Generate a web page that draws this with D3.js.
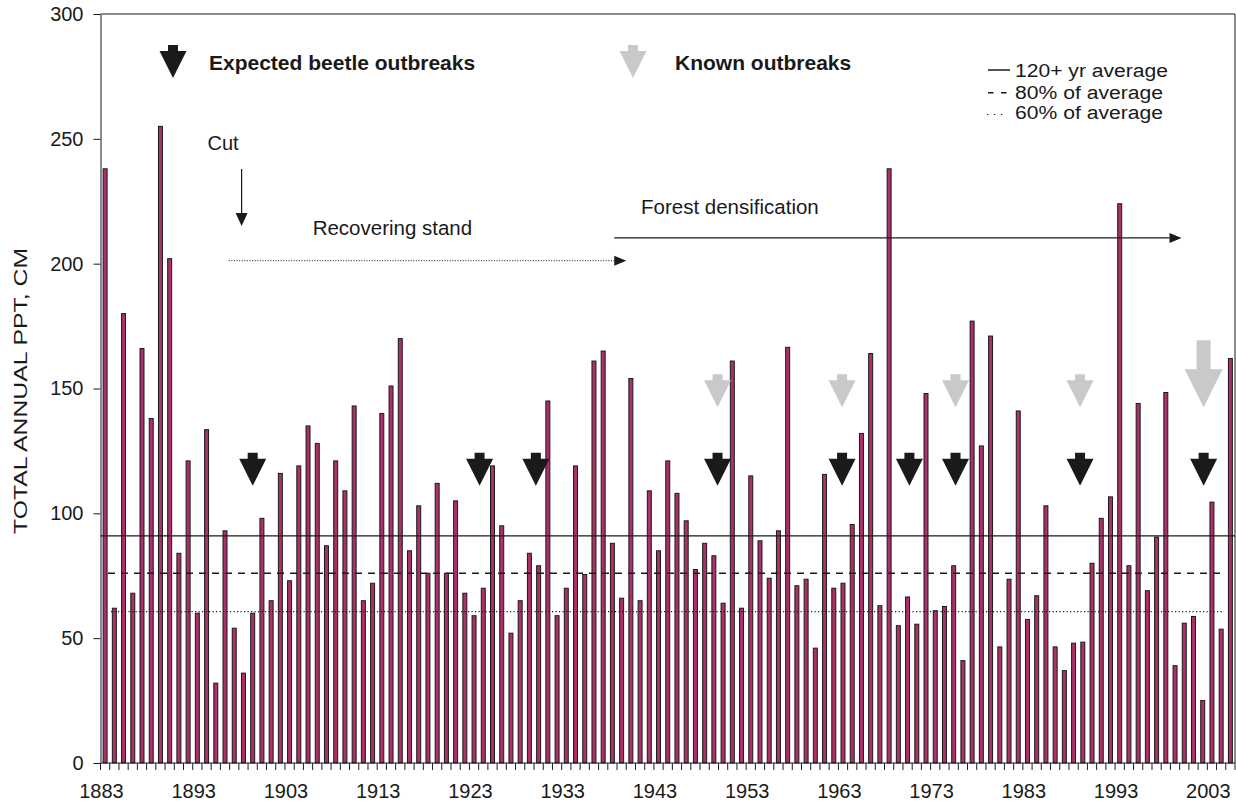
<!DOCTYPE html>
<html><head><meta charset="utf-8">
<script src="https://cdn.jsdelivr.net/npm/d3@7"></script>
<style>
body{margin:0;background:#fff}
svg{display:block}
text{font-family:"Liberation Sans",Arial,Helvetica,sans-serif;fill:#1a1a1a}
</style>
</head><body>
<svg id="chart" width="1236" height="803"></svg>
<script>
// ---------- data ----------
const years = d3.range(1883, 2006);
const precip = [
  238, 62, 180, 68, 166, 138, 255, 202, 84, 121,      // 1883-1892
  60, 133.5, 32, 93, 54, 36, 60, 98, 65, 116,         // 1893-1902
  73, 119, 135, 128, 87, 121, 109, 143, 65, 72,       // 1903-1912
  140, 151, 170, 85, 103, 76, 112, 76, 105, 68,       // 1913-1922
  59, 70, 119, 95, 52, 65, 84, 79, 145, 59,           // 1923-1932
  70, 119, 75.5, 161, 165, 88, 66, 154, 65, 109,      // 1933-1942
  85, 121, 108, 97, 77.5, 88, 83, 64, 161, 62,        // 1943-1952
  115, 89, 74, 93, 166.5, 71, 73.6, 46, 115.6, 70,    // 1953-1962
  72, 95.5, 132, 164, 63, 238, 55, 66.5, 55.6, 148,   // 1963-1972
  61, 62.7, 79, 41, 177, 127, 171, 46.5, 73.6, 141,   // 1973-1982
  57.5, 67, 103, 46.5, 37, 48, 48.4, 80, 98, 106.6,   // 1983-1992
  224, 79, 144, 69, 90.5, 148.4, 39, 56, 58.7, 25,    // 1993-2002
  104.5, 53.6, 162                                    // 2003-2005
];
const xTickLabels = ["1883","1893","1903","1913","1923","1933","1943","1953","1963","1973","1983","1993","2003"];
const yTickValues = [0, 50, 100, 150, 200, 250, 300];
const refNames = ["120+ yr average", "80% of average", "60% of average"];
const refValues = [91, 76, 60.6];
const expectedOutbreaks = [1899.0, 1923.6, 1929.7, 1949.4, 1962.9, 1970.2, 1975.2, 1988.7, 2002.1];
const knownOutbreaks = [1949.4, 1962.9, 1975.2, 1988.7];
const knownMajorOutbreaks = [2002.1];
const yAxisTitle = "TOTAL ANNUAL PPT, CM";

// ---------- layout ----------
const L = 100.5, R = 1235, T = 14, B = 763;
const svg = d3.select("#chart");
const x = d3.scaleBand().domain(years).range([L, R]).paddingInner(0.46).paddingOuter(0.23);
const y = d3.scaleLinear().domain([0, 300]).range([B, T]);
const step = x.step();
const xc = yr => L + (yr - years[0] + 0.5) * step;   // continuous year -> centre px
const xEdge = yr => L + (yr - years[0]) * step;       // band left boundary

const BAR = "#aa3169", INK = "#1a1a1a", GREY = "#c8c9cb";

// frame top/right
svg.append("line").attr("x1", L).attr("x2", R).attr("y1", T).attr("y2", T).attr("stroke", INK).attr("stroke-width", 1);
svg.append("line").attr("x1", R).attr("x2", R).attr("y1", T).attr("y2", B).attr("stroke", INK).attr("stroke-width", 1);

// bars
svg.append("g").selectAll("rect").data(years).join("rect")
  .attr("x", d => x(d) + 0.5)
  .attr("y", (d, i) => y(precip[i]))
  .attr("width", x.bandwidth() - 1)
  .attr("height", (d, i) => B - y(precip[i]))
  .attr("fill", BAR).attr("stroke", INK).attr("stroke-width", 1);

// reference lines
const refDash = [null, "7,6", "1.2,2.3"];
const refStart = [L, xEdge(1883) + 7.5, xEdge(1883) + 10.5];
const refEnd = [R, R - 13, R - 13];
svg.append("g").selectAll("line").data(refValues).join("line")
  .attr("x1", (d, i) => refStart[i]).attr("x2", (d, i) => refEnd[i])
  .attr("y1", d => y(d)).attr("y2", d => y(d))
  .attr("stroke", INK).attr("stroke-width", (d, i) => i === 0 ? 1.3 : (i === 1 ? 1.5 : 1.2))
  .attr("stroke-dasharray", (d, i) => refDash[i]);

// y axis
const yAxis = svg.append("g").attr("transform", `translate(${L},0)`)
  .call(d3.axisLeft(y).tickValues(yTickValues).tickSize(7).tickSizeOuter(0).tickPadding(10));
yAxis.selectAll("text").style("font-size", "20px").attr("fill", INK);
yAxis.selectAll("line,path").attr("stroke", INK);

// x axis (ticks at band boundaries)
const xg = svg.append("g");
xg.append("line").attr("x1", L).attr("x2", R).attr("y1", B).attr("y2", B).attr("stroke", INK);
xg.selectAll("line.t").data(years.concat([years[years.length - 1] + 1])).join("line").attr("class", "t")
  .attr("x1", d => xEdge(d)).attr("x2", d => xEdge(d)).attr("y1", B).attr("y2", B + 7).attr("stroke", INK);
xg.selectAll("text").data(xTickLabels).join("text")
  .attr("x", d => xEdge(+d) + 1).attr("y", 798).attr("text-anchor", "middle")
  .style("font-size", "20px").text(d => d);

// y title
svg.append("text").attr("transform", "translate(27,391) rotate(-90)")
  .attr("text-anchor", "middle").style("font-size", "19px")
  .attr("textLength", 286).attr("lengthAdjust", "spacingAndGlyphs").text(yAxisTitle);

// arrow shapes
function arrowPath(cx, tipY, s) {
  const top = tipY - s.headH - s.stemH, hy = tipY - s.headH;
  return `M${cx - s.stemW / 2},${top}L${cx + s.stemW / 2},${top}L${cx + s.stemW / 2},${hy}` +
         `L${cx + s.headW / 2},${hy}L${cx},${tipY}L${cx - s.headW / 2},${hy}L${cx - s.stemW / 2},${hy}Z`;
}
const small = {stemW: 10, stemH: 6, headW: 27, headH: 27};
const big = {stemW: 14, stemH: 29, headW: 38, headH: 38};

svg.append("g").selectAll("path").data(expectedOutbreaks).join("path")
  .attr("d", d => arrowPath(xc(d), y(111), small)).attr("fill", INK);
svg.append("g").selectAll("path").data(knownOutbreaks).join("path")
  .attr("d", d => arrowPath(xc(d), y(142.5), small)).attr("fill", GREY);
svg.append("g").selectAll("path").data(knownMajorOutbreaks).join("path")
  .attr("d", d => arrowPath(xc(d), y(142.5), big)).attr("fill", GREY);

// legend arrows & labels
svg.append("path").attr("d", arrowPath(173, 78, small)).attr("fill", INK);
svg.append("text").attr("x", 209).attr("y", 70).style("font-size", "21px").style("font-weight", "bold").text("Expected beetle outbreaks");
svg.append("path").attr("d", arrowPath(633, 78, small)).attr("fill", GREY);
svg.append("text").attr("x", 675).attr("y", 70).style("font-size", "21px").style("font-weight", "bold").text("Known outbreaks");

// reference legend
const legY = [70, 92.7, 114.5];
const legTextY = [77, 98.5, 118.5];
const legTextW = [153, 148, 148];
svg.append("line").attr("x1", 988).attr("x2", 1010).attr("y1", legY[0]).attr("y2", legY[0]).attr("stroke", INK).attr("stroke-width", 1.5);
svg.append("line").attr("x1", 988).attr("x2", 1008).attr("y1", legY[1]).attr("y2", legY[1]).attr("stroke", INK).attr("stroke-width", 1.5).attr("stroke-dasharray", "5.5,7.5");
svg.append("line").attr("x1", 987).attr("x2", 1004).attr("y1", legY[2]).attr("y2", legY[2]).attr("stroke", INK).attr("stroke-width", 1.2).attr("stroke-dasharray", "1.3,5.7");
svg.append("g").selectAll("text").data(refNames).join("text")
  .attr("x", 1015).attr("y", (d, i) => legTextY[i]).style("font-size", "18px")
  .attr("textLength", (d, i) => legTextW[i]).attr("lengthAdjust", "spacingAndGlyphs").text(d => d);

// annotations
svg.append("text").attr("x", xc(1894.1)).attr("y", 150).style("font-size", "20px").text("Cut");
svg.append("line").attr("x1", xc(1897.8)).attr("x2", xc(1897.8)).attr("y1", 169).attr("y2", 215).attr("stroke", INK).attr("stroke-width", 1.2);
svg.append("path").attr("d", `M${xc(1897.8) - 6},213L${xc(1897.8) + 6},213L${xc(1897.8)},226Z`).attr("fill", INK);

svg.append("text").attr("x", xc(1905.5)).attr("y", 234.5).style("font-size", "20.5px").text("Recovering stand");
svg.append("line").attr("x1", xc(1896.4)).attr("x2", xc(1938.2)).attr("y1", y(201.2)).attr("y2", y(201.2))
  .attr("stroke", INK).attr("stroke-width", 1).attr("stroke-dasharray", "1,1.6");
svg.append("path").attr("d", `M${xc(1938.2)},${y(201.2) - 5}L${xc(1939.5)},${y(201.2)}L${xc(1938.2)},${y(201.2) + 5}Z`).attr("fill", INK);

svg.append("text").attr("x", xc(1941.1)).attr("y", 214).style("font-size", "20.5px").text("Forest densification");
svg.append("line").attr("x1", xc(1938.2)).attr("x2", xc(1998.4)).attr("y1", y(210.3)).attr("y2", y(210.3))
  .attr("stroke", INK).attr("stroke-width", 1.2);
svg.append("path").attr("d", `M${xc(1998.4)},${y(210.3) - 5}L${xc(1999.7)},${y(210.3)}L${xc(1998.4)},${y(210.3) + 5}Z`).attr("fill", INK);
</script>
</body></html>
